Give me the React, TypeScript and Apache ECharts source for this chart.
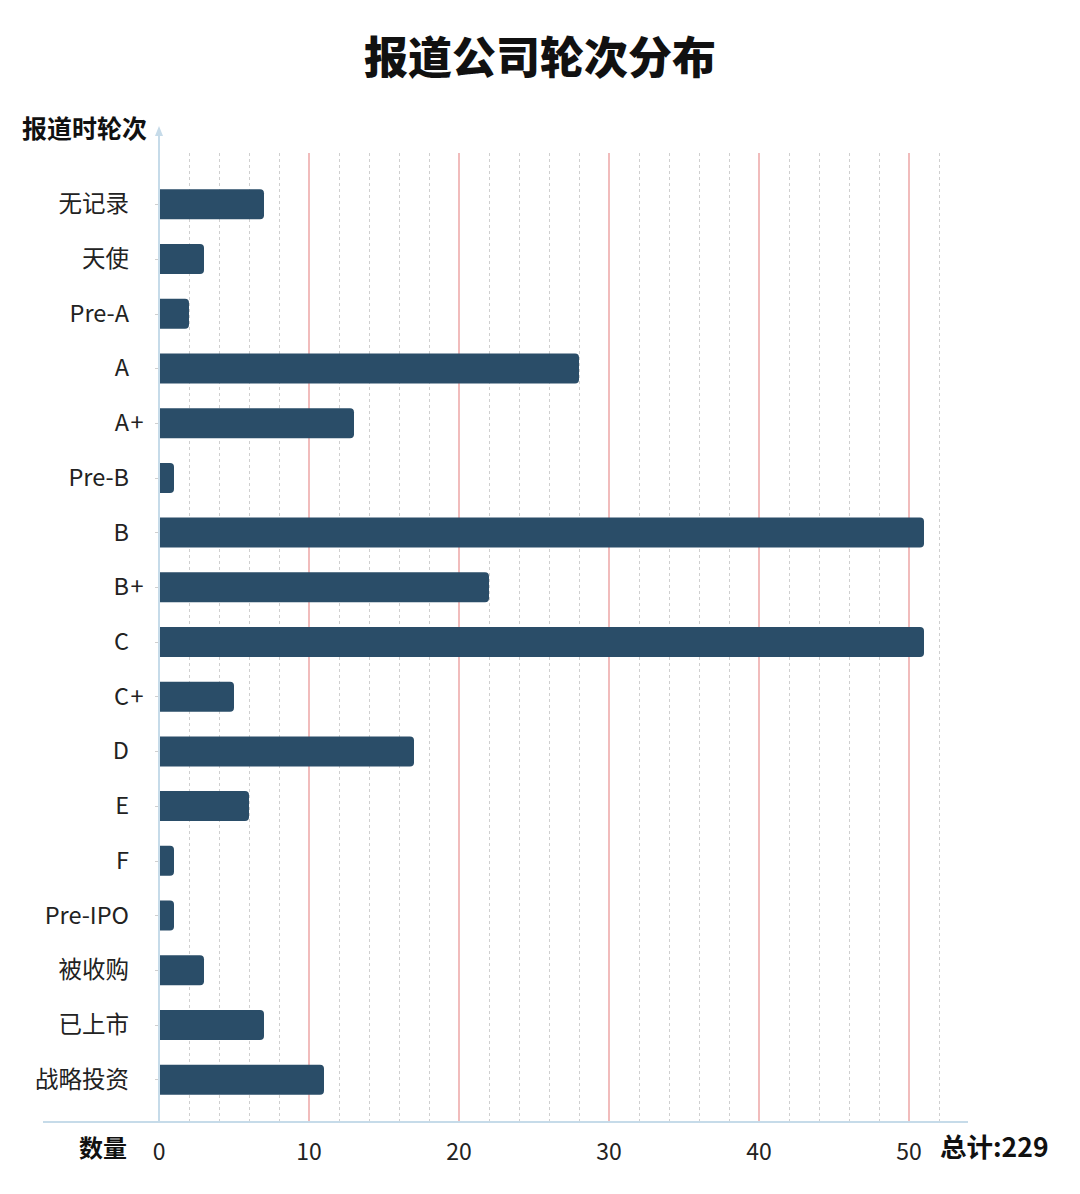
import React, { useEffect, useRef } from "react";
import * as echarts from "echarts";

const categories = [
  "无记录", "天使", "Pre-A", "A", "A+", "Pre-B", "B", "B+", "C", "C+",
  "D", "E", "F", "Pre-IPO", "被收购", "已上市", "战略投资",
];
const counts = [7, 3, 2, 28, 13, 1, 51, 22, 51, 5, 17, 6, 1, 1, 3, 7, 11];
const xMax = 52;
const majorStep = 10;
const minorStep = 2;
const title = "报道公司轮次分布";
const yName = "报道时轮次";
const xName = "数量";
const totalLabel = "总计:";

const FONT = "'Noto Sans CJK SC', 'Noto Sans', sans-serif";

export default function App() {
  const ref = useRef<HTMLDivElement>(null);
  useEffect(() => {
    if (!ref.current) return;
    const chart = echarts.init(ref.current, null, { renderer: "svg" });
    const total = counts.reduce((a, b) => a + b, 0);
    const red = "#eda6a6";
    const grey = "#cfcfcf";
    const axisBlue = "#c6dbe9";
    const majors: number[] = [];
    const minors: number[] = [];
    for (let v = minorStep; v <= xMax; v += minorStep) {
      if (v % majorStep === 0) majors.push(v);
      else minors.push(v);
    }
    chart.setOption({
      animation: false,
      backgroundColor: "#ffffff",
      textStyle: { fontFamily: FONT },
      title: {
        text: title,
        left: "center",
        top: 28,
        textStyle: { fontFamily: FONT, fontSize: 44, fontWeight: 900, color: "#111" },
      },
      grid: [
        { left: 159, right: 141, top: 153, bottom: 72 },
        { left: 159, right: 141, top: 177, bottom: 87 },
      ],
      xAxis: [
        {
          type: "value", gridIndex: 0, min: 0, max: xMax, interval: majorStep, position: "bottom",
          axisLine: { show: false }, axisTick: { show: false },
          axisLabel: {
            show: true, fontSize: 23, color: "#222", margin: 16, fontFamily: FONT,
            formatter: (v: number) => (v % majorStep === 0 ? String(v) : ""),
          },
          splitLine: { show: false },
        },
        {
          type: "value", gridIndex: 1, min: 0, max: xMax,
          show: false, splitLine: { show: false },
        },
      ],
      yAxis: [
        {
          type: "value", gridIndex: 0, min: 0, max: 1, show: false, splitLine: { show: false },
        },
        {
          type: "category", gridIndex: 1, inverse: true, data: categories,
          axisLine: { show: false },
          splitLine: { show: false },
          axisTick: { show: true, alignWithLabel: true, length: 4, lineStyle: { color: "#cfcfcf" } },
          axisLabel: {
            margin: 14,
            fontSize: 23.5,
            color: "#222",
            fontFamily: FONT,
            formatter: (v: string) =>
              v.endsWith("+") ? `{a|${v.slice(0, -1)}}{p|+}` : `{a|${v}}{p| }`,
            rich: {
              a: { fontSize: 23.5, color: "#222", fontFamily: FONT, padding: [0, 0, 4, 0] },
              p: { fontSize: 23.5, color: "#222", fontFamily: FONT, width: 16, align: "left", padding: [0, 0, 4, 0] },
            },
          },
        },
      ],
      series: [
        {
          type: "line",
          xAxisIndex: 0,
          yAxisIndex: 0,
          data: [],
          silent: true,
          z: 1,
          markLine: {
            silent: true,
            symbol: ["none", "none"],
            label: { show: false },
            lineStyle: { color: grey, width: 1, type: [3, 3] },
            data: minors.map((v) => ({ xAxis: v })),
          },
        },
        {
          type: "line",
          xAxisIndex: 0,
          yAxisIndex: 0,
          data: [],
          silent: true,
          z: 2,
          markLine: {
            silent: true,
            symbol: ["none", "none"],
            label: { show: false },
            lineStyle: { color: red, width: 1.5, type: "solid", opacity: 1 },
            data: majors.map((v) => ({ xAxis: v })),
          },
        },
        {
          type: "bar",
          xAxisIndex: 1,
          yAxisIndex: 1,
          data: counts,
          barWidth: 30,
          itemStyle: { color: "#2a4d68", borderRadius: [0, 4, 4, 0] },
          z: 5,
        },
      ],
      graphic: [
        {
          type: "line", z: 10,
          shape: { x1: 43, y1: 1122, x2: 968, y2: 1122 },
          style: { stroke: axisBlue, lineWidth: 2 },
        },
        {
          type: "line", z: 10,
          shape: { x1: 159, y1: 1122, x2: 159, y2: 134 },
          style: { stroke: axisBlue, lineWidth: 2 },
        },
        {
          type: "polygon", z: 10,
          shape: { points: [[155, 136], [159, 126], [163, 136]] },
          style: { fill: axisBlue },
        },
        {
          type: "text", left: 22, top: 114, z: 10,
          style: { text: yName, font: `bold 25px ${FONT}`, fill: "#111" },
        },
        {
          type: "text", left: 79, top: 1134, z: 10,
          style: { text: xName, font: `bold 24px ${FONT}`, fill: "#111" },
        },
        {
          type: "text", left: 940, top: 1132, z: 10,
          style: { text: totalLabel + total, font: `bold 26.5px ${FONT}`, fill: "#111" },
        },
      ],
    });
    return () => chart.dispose();
  }, []);
  return (
    <div
      ref={ref}
      style={{ position: "fixed", left: 0, top: 0, width: 1080, height: 1194, background: "#fff" }}
    />
  );
}
